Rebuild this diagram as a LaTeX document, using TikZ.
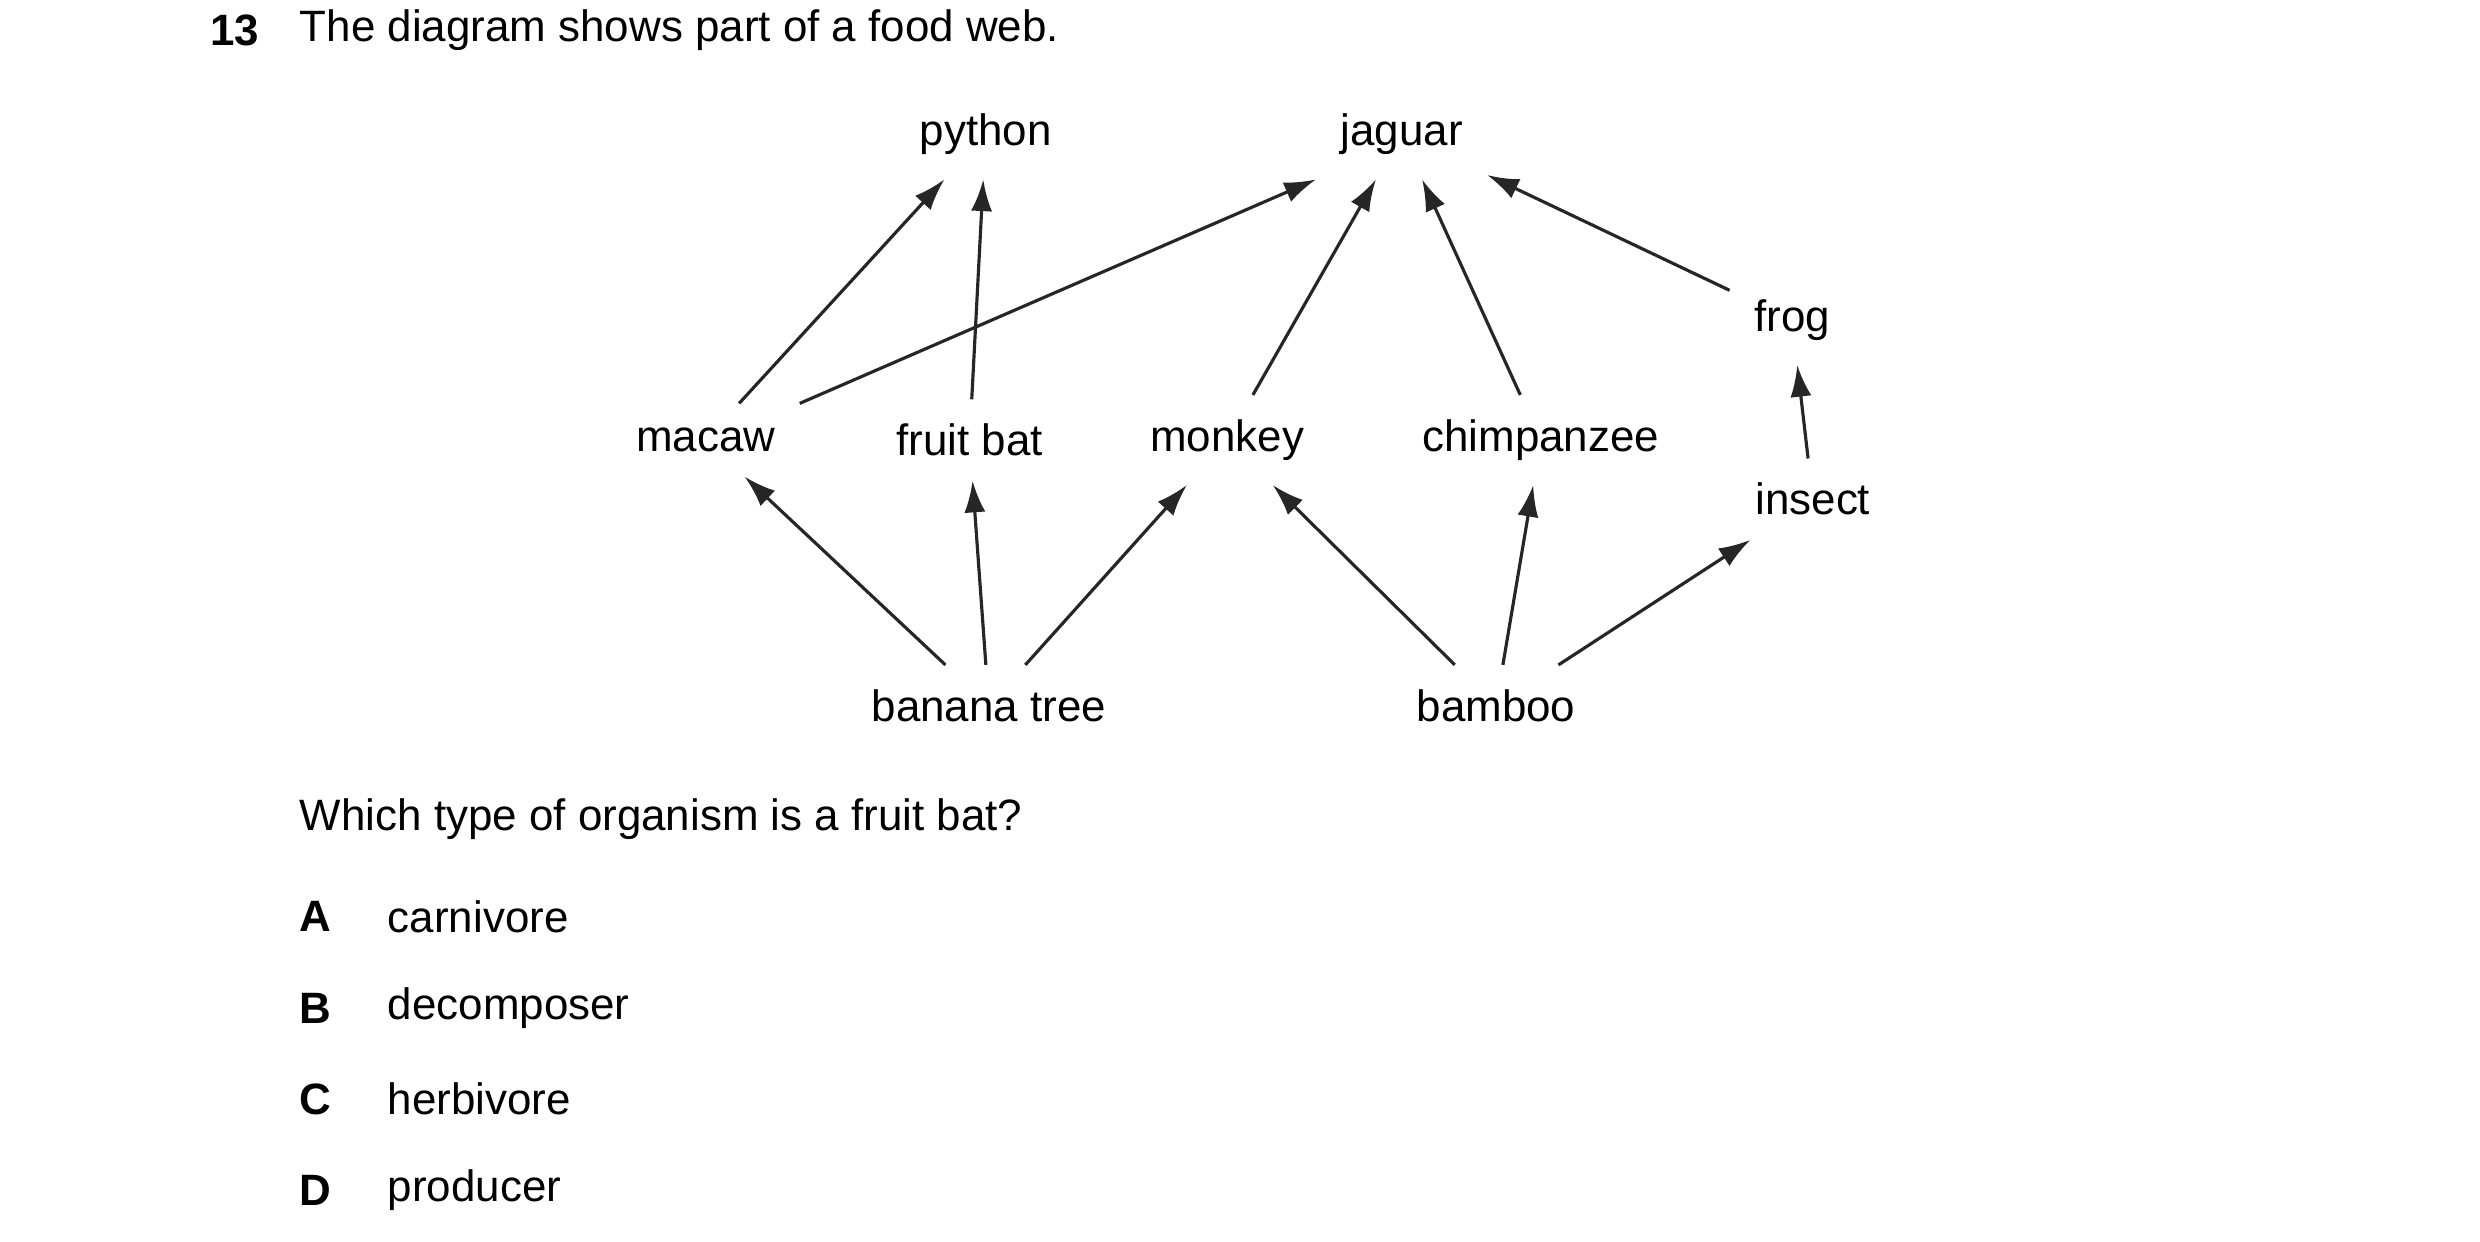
\documentclass[tikz,border=0pt]{standalone}
\usepackage{fontspec}
\setmainfont{Liberation Sans}
\usetikzlibrary{arrows.meta}
\tikzset{
  organism/.style={font=\fontsize{12.5}{15}\selectfont, inner sep=3pt, outer sep=4pt},
  eats/.style={-{Latex[length=9pt,width=6pt]}, line width=0.9pt, color=black!85},
  question/.style={font=\fontsize{12.5}{15}\selectfont, anchor=west, inner sep=0pt}
}
\begin{document}
\begin{tikzpicture}[x=0.016cm, y=-0.016cm]
\useasboundingbox (0,0) rectangle (1550,776);
% question text
\node[question, font=\fontsize{12.5}{15}\selectfont\bfseries] (num) at (131,19) {13};
\node[question] (intro) at (187,19) {The diagram shows part of a food web.};
% organisms
\node[organism] (python) at (616,84) {python};
\node[organism] (jaguar) at (876,84) {jaguar};
\node[organism] (frog) at (1120,200) {frog};
\node[organism] (macaw) at (441,275) {macaw};
\node[organism] (fruitbat) at (606,275) {fruit bat};
\node[organism] (monkey) at (767,275) {monkey};
\node[organism] (chimp) at (963,275) {chimpanzee};
\node[organism] (insect) at (1133,312) {insect};
\node[organism] (banana) at (618,441) {banana tree};
\node[organism] (bamboo) at (935,441) {bamboo};
% feeding links
\draw[eats] (macaw) -- (python);
\draw[eats] (fruitbat) -- (python);
\draw[eats] (macaw.north east) -- (jaguar.south west);
\draw[eats] (monkey) -- (jaguar);
\draw[eats] (chimp) -- (jaguar);
\draw[eats] (frog) -- (jaguar);
\draw[eats] (insect) -- (frog);
\draw[eats] (banana) -- (macaw);
\draw[eats] (banana) -- (fruitbat);
\draw[eats] (banana) -- (monkey);
\draw[eats] (bamboo) -- (monkey);
\draw[eats] (bamboo) -- (chimp);
\draw[eats] (bamboo) -- (insect);
% answers
\node[question] (ask) at (187,512) {Which type of organism is a fruit bat?};
\foreach \letter/\answer/\ypos in {A/carnivore/573, B/decomposer/630, C/herbivore/687, D/producer/744} {
  \node[question, font=\fontsize{12.5}{15}\selectfont\bfseries] (key\letter) at (187,\ypos) {\letter};
  \node[question] (opt\letter) at (242,\ypos) {\answer};
}
\end{tikzpicture}
\end{document}
